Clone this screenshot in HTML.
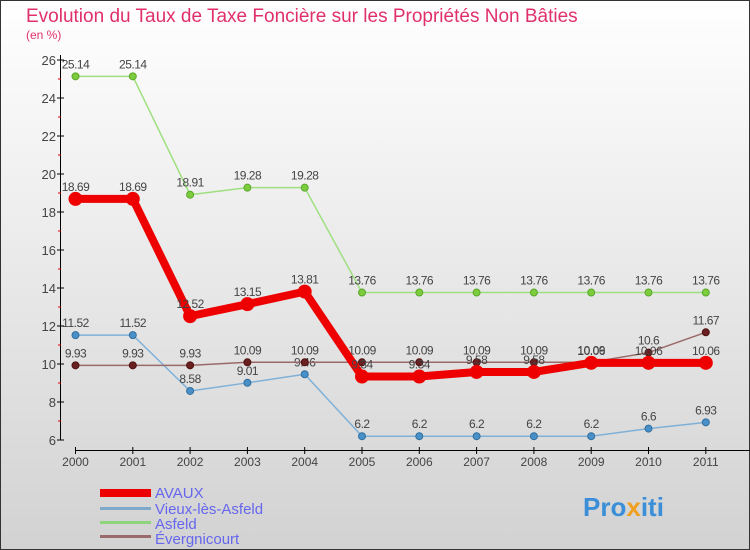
<!DOCTYPE html>
<html><head><meta charset="utf-8"><style>
body{margin:0}
svg{display:block;font-family:"Liberation Sans",sans-serif}
</style></head><body>
<svg id="c" width="750" height="550" viewBox="0 0 750 550">
<defs><linearGradient id="bg" x1="0" y1="0" x2="0" y2="1"><stop offset="0" stop-color="#ffffff"/><stop offset="1" stop-color="#d2d2d2"/></linearGradient></defs>
<rect x="0.5" y="0.5" width="749" height="549" fill="url(#bg)" stroke="#333"/>
<text x="26" y="22" font-size="19" fill="#e0306a">Evolution du Taux de Taxe Foncière sur les Propriétés Non Bâties</text>
<text x="26" y="39" font-size="12" fill="#e0306a">(en %)</text>
<g id="axes"></g>
<g id="series"></g>
<g id="legend">
<rect x="100" y="489" width="51" height="8" fill="#e00"/>
<text x="155" y="498" font-size="15" fill="#6666ee">AVAUX</text>
<rect x="100" y="507" width="51" height="3" fill="#7fa9c9"/>
<text x="155" y="514" font-size="15" fill="#6666ee">Vieux-lès-Asfeld</text>
<rect x="100" y="521" width="51" height="3" fill="#8fd47a"/>
<text x="155" y="529" font-size="15" fill="#6666ee">Asfeld</text>
<rect x="100" y="535" width="51" height="3" fill="#9a6a6a"/>
<text x="155" y="544" font-size="15" fill="#6666ee">Évergnicourt</text>
</g>
<text x="583" y="516" font-size="26" font-weight="bold" fill="#3a8fd8">Pro<tspan fill="#f0a020">x</tspan>iti</text>
</svg>
<script>
const years=[2000,2001,2002,2003,2004,2005,2006,2007,2008,2009,2010,2011];
const yTicks=[6,8,10,12,14,16,18,20,22,24,26];
const avaux=[18.69,18.69,12.52,13.15,13.81,9.34,9.34,9.58,9.58,10.06,10.06,10.06];
const vieux=[11.52,11.52,8.58,9.01,9.46,6.2,6.2,6.2,6.2,6.2,6.6,6.93];
const asfeld=[25.14,25.14,18.91,19.28,19.28,13.76,13.76,13.76,13.76,13.76,13.76,13.76];
const evergnicourt=[9.93,9.93,9.93,10.09,10.09,10.09,10.09,10.09,10.09,10.09,10.6,11.67];
const NS="http://www.w3.org/2000/svg";
const X=i=>75.5+i*57.3;
const Y=v=>440-(v-6)*19;
function mk(t,a,p){const e=document.createElementNS(NS,t);for(const k in a)e.setAttribute(k,a[k]);p.appendChild(e);return e;}
const ax=document.getElementById('axes');
const yl=mk('line',{x1:60.5,y1:55,x2:60.5,y2:440,stroke:'#000'},ax);


for(let v=6;v<26;v++){if(v%2){const m=mk('line',{x1:58,y1:Y(v),x2:61,y2:Y(v),stroke:'#d00'},ax);

}}
yTicks.forEach(v=>{mk('line',{x1:57,y1:Y(v),x2:64,y2:Y(v),stroke:'#000'},ax);
const t=mk('text',{x:56,y:Y(v)+5,'font-size':13,fill:'#444','text-anchor':'end'},ax);t.textContent=v;

});
const xl=mk('line',{x1:75,y1:450.5,x2:750,y2:450.5,stroke:'#000'},ax);


years.forEach((y,i)=>{mk('line',{x1:X(i),y1:447,x2:X(i),y2:454,stroke:'#000'},ax);
const t=mk('text',{x:X(i),y:466,'font-size':12,fill:'#444','text-anchor':'middle'},ax);t.textContent=y;

});
const sg=document.getElementById('series');
function series(d,name,col,w,r,dot,dotStroke){
const g=mk('g',{},sg);


const l=mk('polyline',{points:d.map((v,i)=>X(i)+','+Y(v)).join(' '),fill:'none',stroke:col,'stroke-width':w,'stroke-linejoin':'round'},g);


d.forEach((v,i)=>{const c=mk('circle',{cx:X(i),cy:Y(v),r:r,fill:dot,stroke:dotStroke,'stroke-width':1},g);


const t=mk('text',{x:X(i),y:Y(v)-8,'font-size':12,fill:'#444','text-anchor':'middle','letter-spacing':'-0.5'},g);t.textContent=v;

});
}
series(asfeld,'asfeld','#9ee080',1.5,3.5,'#7ccc3e','#5aa82a');
series(vieux,'vieux-les-asfeld','#7fb0d8',1.5,3.5,'#4a90c8','#2f6f9f');
series(evergnicourt,'evergnicourt','#9a6a6a',1.5,3.5,'#6a2020','#501010');
series(avaux,'avaux','#ee0000',8,6.5,'#ee0000','#ee0000');
</script>
</body></html>
